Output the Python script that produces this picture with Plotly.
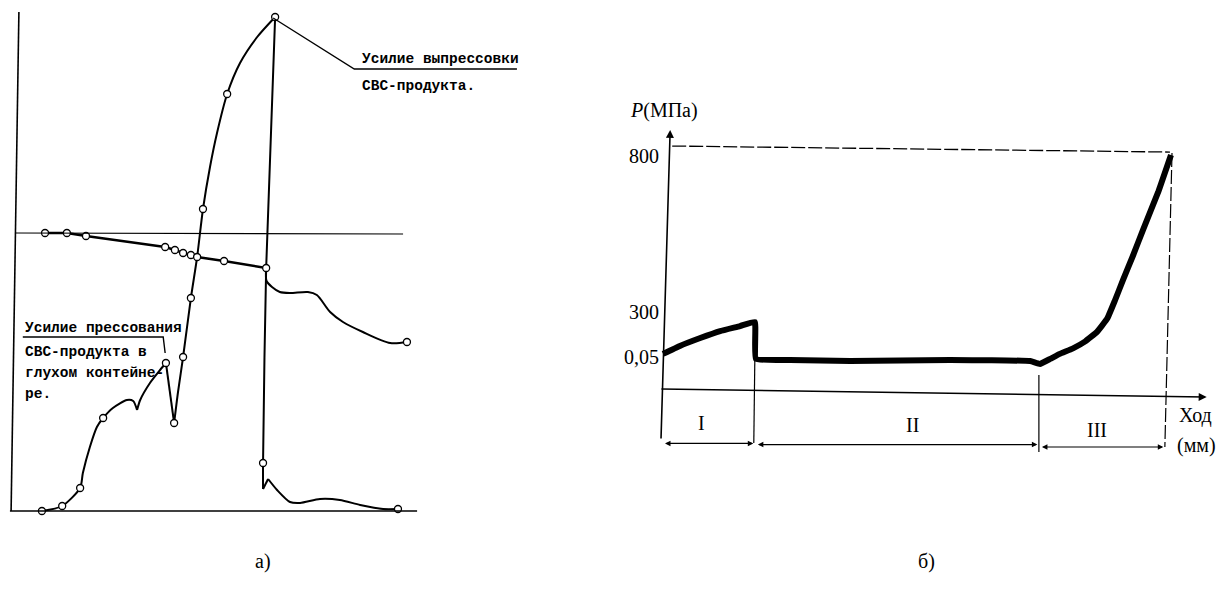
import plotly.graph_objects as go

# ================= panel а): press / extrusion force diagram (arbitrary units 0-100) =================
# extrusion-force curve (rises to the peak, drops, tails off)
force_x = [6.9, 12.1, 16.7, 17.4, 19.2, 21.0, 22.6, 25.1, 28.7, 30.3, 31.3, 32.1, 34.6, 37.2, 38.7,
           40.8, 41.8, 43.1, 45.1, 46.7, 48.2, 50.0, 51.8, 54.4, 57.7, 62.1, 66.7,
           64.4, 63.6, 63.6, 64.9, 67.2, 70.5, 73.1, 78.2, 83.3, 88.5, 94.4, 98.2]
force_y = [0.0, 1.0, 4.6, 7.6, 12.8, 16.8, 18.6, 20.6, 22.2, 22.0, 20.2, 22.2, 25.6, 28.2, 29.6,
           17.6, 23.8, 30.8, 42.6, 50.8, 60.4, 68.8, 75.6, 83.4, 89.6, 94.8, 98.8,
           48.6, 9.6, 4.4, 6.4, 4.2, 1.8, 1.6, 2.4, 2.2, 1.2, 0.4, 0.4]
force_breaks = [10, 14, 15, 26, 29, 30]          # sharp corners of the curve
force_marks = [0, 1, 2, 6, 14, 15, 17, 18, 20, 23, 26, 28, 38]

# slowly descending line with measured points
line_x = [7.7, 13.3, 18.2, 38.5, 41.0, 43.1, 45.1, 46.7, 53.6, 64.4]
line_y = [55.6, 55.6, 55.0, 52.8, 52.2, 51.6, 51.2, 50.8, 50.0, 48.6]

# wavy continuation after the drop
wave_x = [64.4, 64.5, 65.9, 67.9, 70.5, 75.1, 77.4, 80.8, 84.1, 89.2, 96.2, 100.5]
wave_y = [48.6, 46.0, 44.8, 43.8, 43.6, 43.8, 43.2, 39.8, 37.8, 35.8, 33.6, 33.8]

ref_level = 55.6                               # horizontal reference line

# ================= panel б): P (MPa) vs stroke (schematic units) =================
stroke = [0.2, 3.5, 7.5, 11.4, 15.3, 18.2, 18.4, 25.1, 36.9, 56.5, 72.2, 74.1, 76.1, 78.0, 80.5,
          83.0, 85.3, 87.3, 88.8, 90.4, 92.4, 94.3, 97.3, 99.8]
pressure = [16.3, 19.6, 22.9, 25.8, 27.9, 29.6, 14.2, 13.8, 13.3, 13.8, 13.3, 12.1, 14.2, 16.3, 18.5,
            21.5, 25.5, 31.0, 38.5, 47.1, 57.5, 67.9, 83.8, 99.2]
p_tick_pos = [15.0, 33.75, 98.75]
p_tick_text = ["0,05", "300", "800"]
stage_labels = ["I", "II", "III"]
stage_bounds = [0.0, 18.2, 73.9, 98.6]

fig = go.Figure()

# ---- panel а) traces ----
starts = [0] + force_breaks
ends = force_breaks + [len(force_x) - 1]
for s, e in zip(starts, ends):
    fig.add_trace(go.Scatter(x=force_x[s:e + 1], y=force_y[s:e + 1], mode="lines",
                             line=dict(color="black", width=2, shape="spline", smoothing=0.7),
                             xaxis="x", yaxis="y", hoverinfo="skip", showlegend=False))
fig.add_trace(go.Scatter(x=line_x, y=line_y, mode="lines", line=dict(color="black", width=2.4),
                         xaxis="x", yaxis="y", hoverinfo="skip", showlegend=False))
fig.add_trace(go.Scatter(x=wave_x, y=wave_y, mode="lines",
                         line=dict(color="black", width=2, shape="spline", smoothing=0.8),
                         xaxis="x", yaxis="y", hoverinfo="skip", showlegend=False))
# circles
mx = [force_x[i] for i in force_marks] + line_x + [wave_x[-1]]
my = [force_y[i] for i in force_marks] + line_y + [wave_y[-1]]
fig.add_trace(go.Scatter(x=mx, y=my, mode="markers",
                         marker=dict(size=7, color="white", line=dict(color="black", width=1.3)),
                         xaxis="x", yaxis="y", hoverinfo="skip", showlegend=False))

# leader lines for the labels
fig.add_trace(go.Scatter(x=[66.2, 87.0, 128.7], y=[98.6, 88.4, 88.4], mode="lines",
                         line=dict(color="black", width=1.4), xaxis="x", yaxis="y",
                         hoverinfo="skip", showlegend=False))
fig.add_trace(go.Scatter(x=[2.0, 38.0, 38.5], y=[34.8, 34.8, 31.6], mode="lines",
                         line=dict(color="black", width=1.4), xaxis="x", yaxis="y",
                         hoverinfo="skip", showlegend=False))

# ---- panel б) trace ----
fig.add_trace(go.Scatter(x=stroke, y=pressure, mode="lines",
                         line=dict(color="black", width=6, shape="spline", smoothing=0.3),
                         xaxis="x2", yaxis="y2", hoverinfo="skip", showlegend=False))

shapes = [
    # panel а) frame
    dict(type="line", xref="x", yref="y", x0=1.0, y0=99.8, x1=-1.0, y1=0, line=dict(color="black", width=1.6)),
    dict(type="line", xref="x", yref="y", x0=-1.3, y0=0, x1=103.1, y1=0, line=dict(color="black", width=1.6)),
    dict(type="line", xref="x", yref="y", x0=0, y0=ref_level, x1=99.5, y1=ref_level - 0.2,
         line=dict(color="black", width=1.2)),
    # panel б) frame
    dict(type="line", xref="x2", yref="y2", x0=2.0, y0=102.9, x1=99.6, y1=100.4,
         line=dict(color="black", width=1.3, dash="14px,3px")),
    dict(type="line", xref="x2", yref="y2", x0=100.0, y0=100.0, x1=98.6, y1=-22.5,
         line=dict(color="black", width=1.2, dash="14px,3px")),
    dict(type="line", xref="x2", yref="y2", x0=18.2, y0=14.2, x1=18.0, y1=-20.8,
         line=dict(color="black", width=1.2)),
    dict(type="line", xref="x2", yref="y2", x0=73.9, y0=7.5, x1=73.9, y1=-24.6,
         line=dict(color="black", width=1.2)),
]

annotations = []
mono = dict(family="Liberation Mono", size=14.5, color="black")
serif = dict(family="Liberation Serif", size=20, color="black")
# panel а) texts
for txt, xx, yy in [("Усилие выпрессовки", 88.5, 90.4), ("СВС-продукта.", 88.5, 85.0),
                    ("Усилие прессования", 2.0, 36.6), ("СВС-продукта в", 2.0, 31.8),
                    ("глухом контейне-", 2.0, 27.6), ("ре.", 2.0, 23.4)]:
    annotations.append(dict(text="<b>" + txt + "</b>", x=xx, y=yy, xref="x", yref="y", xanchor="left",
                            yanchor="middle", showarrow=False, font=mono))
# panel б) axes arrows
annotations.append(dict(x=1.6, y=109.6, ax=-0.2, ay=-19.6, xref="x2", yref="y2", axref="x2", ayref="y2",
                        text="", showarrow=True, arrowhead=2, arrowsize=1, arrowwidth=1.6, arrowcolor="black"))
annotations.append(dict(x=106.8, y=-1.7, ax=-0.4, ay=1.7, xref="x2", yref="y2", axref="x2", ayref="y2",
                        text="", showarrow=True, arrowhead=2, arrowsize=1, arrowwidth=1.6, arrowcolor="black"))
# stage arrows and labels
stage_y = [-21.0, -21.5, -22.5]
for i, lab in enumerate(stage_labels):
    x0, x1 = stage_bounds[i] + 0.3, stage_bounds[i + 1] - 0.3
    annotations.append(dict(x=x1, y=stage_y[i], ax=x0, ay=stage_y[i], xref="x2", yref="y2",
                            axref="x2", ayref="y2", text="", showarrow=True, arrowhead=2,
                            arrowside="end+start", arrowsize=1, arrowwidth=1.1, arrowcolor="black"))
label_pos = [(7.7, -12.5), (49.2, -13.3), (85.3, -15.4)]
for lab, (xx, yy) in zip(stage_labels, label_pos):
    annotations.append(dict(text=lab, x=xx, y=yy, xref="x2", yref="y2", showarrow=False, font=serif))
annotations.append(dict(text="<i>P</i>(MПa)", x=0.3, y=117.9, xref="x2", yref="y2", showarrow=False, font=serif))
annotations.append(dict(text="Ход", x=104.7, y=-9.2, xref="x2", yref="y2", showarrow=False, font=serif))
annotations.append(dict(text="(мм)", x=104.9, y=-21.7, xref="x2", yref="y2", showarrow=False, font=serif))

# the page body adds an 8 px margin, so the figure is 8 px smaller than the window
FW, FH = 1217, 582
annotations.append(dict(text="а)", x=(253 - 8) / FW, y=1 - (575 - 8) / FH, xref="paper", yref="paper",
                        showarrow=False, font=serif))
annotations.append(dict(text="б)", x=(937 - 8) / FW, y=1 - (575 - 8) / FH, xref="paper", yref="paper",
                        showarrow=False, font=serif))

fig.update_layout(
    width=FW, height=FH, margin=dict(l=0, r=0, t=0, b=0),
    paper_bgcolor="white", plot_bgcolor="white", showlegend=False,
    xaxis=dict(domain=[0, 582 / FW], range=[-1.795, 147.436], visible=False, anchor="y"),
    yaxis=dict(domain=[0, 1], range=[-15.8, 100.6], visible=False, anchor="x"),
    xaxis2=dict(domain=[582 / FW, 1], range=[-14.118, 110.392], visible=False, anchor="y2"),
    yaxis2=dict(domain=[0, 1], range=[-82.083, 160.417], anchor="free", position=651 / FW,
                showline=False, showgrid=False, zeroline=False, ticks="",
                tickvals=p_tick_pos, ticktext=p_tick_text,
                tickfont=dict(family="Liberation Serif", size=20, color="black")),
    shapes=shapes, annotations=annotations,
)

fig.write_html("out.html")
